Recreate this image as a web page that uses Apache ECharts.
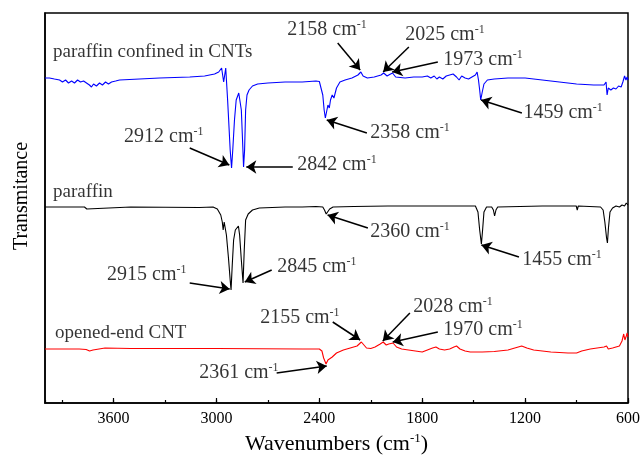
<!DOCTYPE html>
<html>
<head>
<meta charset="utf-8">
<script src="https://cdn.jsdelivr.net/npm/echarts@6/dist/echarts.min.js"></script>
<style>
html, body { margin: 0; padding: 0; background: #fff; }
#chart { width: 641px; height: 457px; }
</style>
</head>
<body>
<div id="chart"></div>
<script>
// [wavenumber cm-1, transmittance (arbitrary, offset per trace)]
var confinedSpectrum = [
  [4000,325],[3974,325],[3945,324],[3915,323],[3898,321],[3880,323],[3863,320],[3845,322],[3828,320],
  [3810,323],[3793,321],[3775,322],[3758,320],[3741,318],[3729,316],[3717,319],[3700,317],[3682,320],
  [3665,318],[3647,321],[3630,319],[3612,321],[3588,322],[3565,323],[3507,323.5],[3449,324],[3390,324.5],
  [3332,325],[3244,325.5],[3156,326],[3069,327],[3011,329],[2987,331],[2970,335],[2964,333],[2958,321],
  [2952,323],[2946,335],[2941,333],[2935,303],[2920,253],[2912,235],[2905,253],[2895,283],[2885,303],
  [2870,310],[2862,308],[2855,293],[2848,263],[2842,236],[2836,253],[2830,293],[2822,308],[2810,313],
  [2790,317],[2760,319],[2700,320],[2600,321],[2500,321],[2420,322],[2400,321.5],[2390,320],[2380,308],
  [2372,293],[2365,285],[2358,283],[2350,298],[2342,295],[2335,303],[2325,308],[2315,305],[2300,315],
  [2280,321],[2250,323],[2210,325],[2175,328],[2158,331],[2145,327],[2120,325],[2080,326],[2040,328],
  [2025,330],[2005,327],[1990,328.5],[1973,330],[1955,326],[1900,325],[1850,326],[1800,326],[1770,327],
  [1750,325],[1730,327],[1715,324],[1700,326],[1680,324],[1660,327],[1640,328],[1620,329],[1600,326],
  [1585,323],[1570,327],[1550,325],[1530,324],[1510,326],[1490,328],[1480,331],[1472,323],[1465,313],
  [1459,303],[1450,311],[1440,319],[1420,323],[1380,324],[1300,325],[1200,325],[1100,323],[1000,321],
  [900,319],[800,318],[740,318],[728,321],[722,308],[715,315],[700,313],[685,315],[670,314],[655,317],
  [640,316],[630,321],[620,327],[612,323],[605,326],[600,323]
];
var paraffinSpectrum = [
  [4000,196],[3850,196],[3770,196],[3762,198],[3756,194],[3750,196],[3500,196],[3100,195.5],[3020,196],
  [2995,194],[2975,188],[2966,181],[2961,173],[2955,181],[2950,183],[2942,168],[2930,145],[2920,123],
  [2915,113],[2908,138],[2900,163],[2890,173],[2880,175],[2872,177],[2865,168],[2855,143],[2845,120],
  [2838,153],[2830,183],[2815,189],[2790,193],[2750,195],[2600,196],[2500,196],[2420,196.5],[2380,196],
  [2370,193],[2360,189],[2350,191],[2340,194],[2320,196],[2200,196.5],[2000,197],[1800,197],[1600,197],
  [1490,197],[1475,191],[1465,173],[1455,159],[1448,173],[1440,191],[1425,196],[1395,196],[1385,193],
  [1378,187],[1370,193],[1360,196],[1100,197],[902,197],[896,193],[890,197],[760,196],[745,193],
  [735,181],[725,165],[720,160],[714,175],[705,191],[690,195],[670,197],[650,196],[635,198],[620,197],
  [610,200],[600,198]
];
var cntSpectrum = [
  [4000,54],[3800,54],[3760,53.5],[3740,52],[3720,53],[3650,55],[3500,54.5],[3000,54.5],[2500,54],
  [2400,54],[2385,52],[2375,45],[2361,39],[2350,43],[2340,42],[2325,46],[2300,50],[2260,53],[2220,55],
  [2180,57],[2155,61],[2140,58],[2125,55],[2100,54.5],[2075,56],[2045,59],[2028,61],[2010,58],[1995,59],
  [1985,57],[1970,60],[1950,56],[1920,54],[1880,53],[1840,52],[1800,51],[1770,53],[1740,55],[1720,56],
  [1700,54],[1670,53],[1640,54],[1615,56],[1600,57],[1580,54],[1550,52],[1520,51],[1450,51],[1380,51.5],
  [1300,53],[1240,56],[1220,57],[1190,55],[1150,53],[1050,51],[950,50],[900,50],[870,52],[820,54],
  [780,55],[740,56],[725,57],[715,54],[690,55],[650,57],[635,62],[625,69],[618,63],[610,67],[605,70],
  [600,66]
];

var traceNames = ['paraffin confined in CNTs', 'paraffin', 'opened-end CNT'];
var traceColors = ['#0000ff', '#000000', '#ff0000'];
var traceNamePos = [[3956,351],[3956,211],[3944,70]];

// peak label text, label anchor (left/middle), arrow tail, arrow tip
var annotations = [
  {text:'2158', at:[2590,373], from:[2293,360], to:[2162,333]},
  {text:'2025', at:[1902,368], from:[1878,356], to:[2028,331]},
  {text:'1973', at:[1680,343], from:[1709,341], to:[1975,331]},
  {text:'2358', at:[2106,270], from:[2123,270], to:[2357,283]},
  {text:'1459', at:[1213,290], from:[1219,290], to:[1457,303]},
  {text:'2912', at:[3542,266], from:[3156,255], to:[2925,238]},
  {text:'2842', at:[2532,238], from:[2555,236], to:[2826,236]},
  {text:'2915', at:[3641,128], from:[3156,120], to:[2923,114]},
  {text:'2845', at:[2649,136], from:[2678,133], to:[2835,121]},
  {text:'2360', at:[2106,171], from:[2117,175], to:[2352,188]},
  {text:'1455', at:[1219,143], from:[1236,146], to:[1455,158]},
  {text:'2155', at:[2748,85], from:[2322,81], to:[2162,63]},
  {text:'2028', at:[1855,96], from:[1872,90], to:[2030,62]},
  {text:'1970', at:[1680,73], from:[1709,71], to:[1972,61]},
  {text:'2361', at:[3104,30], from:[2649,30], to:[2357,37]}
];

var serif = '"Liberation Serif", "Times New Roman", serif';
var chart = echarts.init(document.getElementById('chart'));

var spectra = [confinedSpectrum, paraffinSpectrum, cntSpectrum];
var series = spectra.map(function (d, i) {
  return {
    type: 'line',
    name: traceNames[i],
    data: d,
    symbol: 'none',
    smooth: false,
    lineStyle: { color: traceColors[i], width: 1.1 },
    emphasis: { disabled: true },
    silent: true
  };
});

series.push({
  type: 'scatter',
  symbolSize: 1,
  itemStyle: { color: 'rgba(0,0,0,0)' },
  silent: true,
  data: annotations.map(function (a) { return { name: a.text, value: a.at }; }),
  label: {
    show: true,
    position: 'right',
    distance: 0,
    color: '#000',
    formatter: function (p) { return '{n|' + p.name + ' cm}{s|-1}'; },
    rich: {
      n: { fontSize: 20, fontFamily: serif, color: '#000', lineHeight: 22 },
      s: { fontSize: 12, fontFamily: serif, color: '#000', verticalAlign: 'top', lineHeight: 12 }
    }
  },
  markLine: {
    silent: true,
    animation: false,
    symbol: ['none', 'arrow'],
    symbolSize: 10,
    label: { show: false },
    emphasis: { disabled: true },
    lineStyle: { color: '#000', width: 1.5, type: 'solid' },
    data: annotations.map(function (a) { return [{ coord: a.from }, { coord: a.to }]; })
  }
});

series.push({
  type: 'scatter',
  symbolSize: 1,
  itemStyle: { color: 'rgba(0,0,0,0)' },
  silent: true,
  data: traceNames.map(function (n, i) { return { name: n, value: traceNamePos[i] }; }),
  label: {
    show: true,
    position: 'right',
    distance: 0,
    formatter: '{b}',
    fontSize: 19,
    fontFamily: serif,
    color: '#000'
  }
});

chart.setOption({
  animation: false,
  backgroundColor: '#fff',
  grid: {
    left: 45, right: 13, top: 13, bottom: 54,
    show: true, borderColor: '#000', borderWidth: 1.5,
    outerBoundsMode: 'none'
  },
  xAxis: [{
    type: 'value', min: 600, max: 4000, interval: 600, inverse: true, position: 'bottom',
    axisLine: { show: true, onZero: false, lineStyle: { color: '#000', width: 1.5 } },
    axisTick: { show: true, inside: true, length: 5, lineStyle: { color: '#000', width: 1.2 } },
    axisLabel: {
      color: '#000', fontSize: 16, fontFamily: serif, margin: 8, showMaxLabel: false,
      formatter: function (v) { return String(v); }
    },
    splitLine: { show: false },
    name: '{a|Wavenumbers (cm}{s|-1}{a|)}',
    nameLocation: 'middle',
    nameGap: 24,
    nameTextStyle: {
      color: '#000',
      rich: {
        a: { fontSize: 22, fontFamily: serif, color: '#000', lineHeight: 24 },
        s: { fontSize: 13, fontFamily: serif, color: '#000', verticalAlign: 'top', lineHeight: 13 }
      }
    }
  }, {
    type: 'value', min: 600, max: 4000, interval: 300, inverse: true, position: 'bottom',
    axisLine: { show: false, onZero: false },
    axisTick: { show: true, inside: true, length: 3, lineStyle: { color: '#000', width: 1.2 } },
    axisLabel: { show: false },
    splitLine: { show: false }
  }],
  yAxis: {
    type: 'value', min: 0, max: 390,
    axisLine: { show: true, lineStyle: { color: '#000', width: 1.5 } },
    axisTick: { show: false },
    axisLabel: { show: false },
    splitLine: { show: false }
  },
  graphic: [{
    type: 'text',
    x: 22, y: 196,
    rotation: Math.PI / 2,
    style: {
      text: 'Transmitance',
      fontSize: 20,
      fontFamily: serif,
      fill: '#000',
      align: 'center',
      verticalAlign: 'middle'
    }
  }],
  series: series
});
</script>
</body>
</html>
